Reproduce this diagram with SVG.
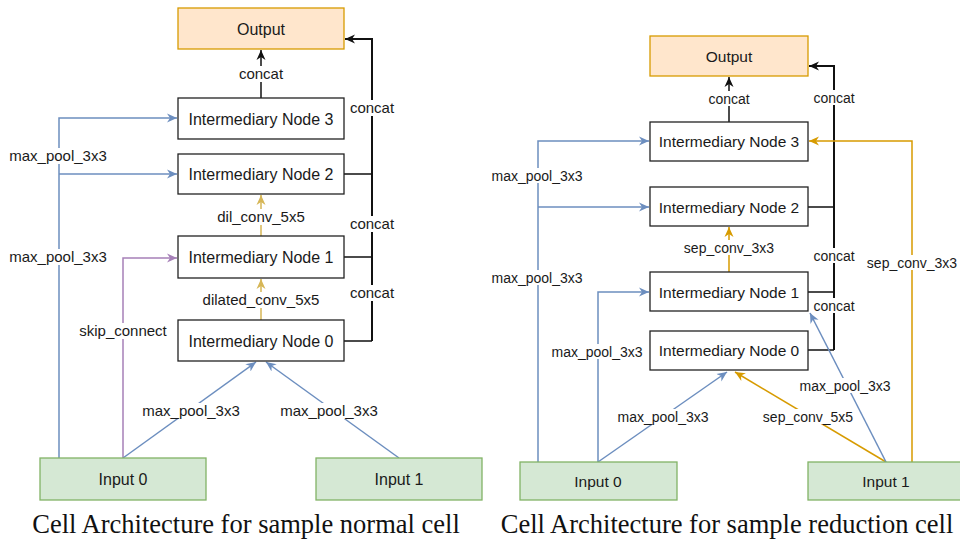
<svg xmlns="http://www.w3.org/2000/svg" width="960" height="540" viewBox="0 0 960 540">
<defs>
<style>
.node{fill:#ffffff;stroke:#222;stroke-width:1.3}
.out{fill:#ffe6cc;stroke:#d79b00;stroke-width:1.3}
.inp{fill:#d5e8d4;stroke:#82b366;stroke-width:1.3}
.t{font-family:"Liberation Sans",Arial,sans-serif;fill:#1a1a1a;text-anchor:middle}
.nl{font-size:16px}
.nr{font-size:15.5px}
.ll{font-size:15px}
.lr{font-size:14px}
.bg{fill:#ffffff}
.k{fill:none;stroke:#111;stroke-width:1.5}
.kv{fill:none;stroke:#111;stroke-width:2}
.b{fill:none;stroke:#6c8ebf;stroke-width:1.5}
.y1{fill:none;stroke:#d6b656;stroke-width:1.5}
.y2{fill:none;stroke:#d79b00;stroke-width:1.5}
.p{fill:none;stroke:#a680b8;stroke-width:1.5}
.cap{font-family:"Liberation Serif","Times New Roman",serif;font-size:26.5px;fill:#111;text-anchor:middle}
</style>
<marker id="mk" viewBox="0 0 10 10" refX="10" refY="5" markerWidth="10" markerHeight="10" markerUnits="userSpaceOnUse" orient="auto"><path d="M0,0.5 L10,5 L0,9.5 L3,5 z" fill="#111"/></marker>
<marker id="mb" viewBox="0 0 10 10" refX="10" refY="5" markerWidth="10" markerHeight="10" markerUnits="userSpaceOnUse" orient="auto"><path d="M0,0.5 L10,5 L0,9.5 L3,5 z" fill="#6c8ebf"/></marker>
<marker id="my1" viewBox="0 0 10 10" refX="10" refY="5" markerWidth="10" markerHeight="10" markerUnits="userSpaceOnUse" orient="auto"><path d="M0,0.5 L10,5 L0,9.5 L3,5 z" fill="#d6b656"/></marker>
<marker id="my2" viewBox="0 0 10 10" refX="10" refY="5" markerWidth="10" markerHeight="10" markerUnits="userSpaceOnUse" orient="auto"><path d="M0,0.5 L10,5 L0,9.5 L3,5 z" fill="#d79b00"/></marker>
<marker id="mp" viewBox="0 0 10 10" refX="10" refY="5" markerWidth="10" markerHeight="10" markerUnits="userSpaceOnUse" orient="auto"><path d="M0,0.5 L10,5 L0,9.5 L3,5 z" fill="#a680b8"/></marker>
</defs>
<rect width="960" height="540" fill="#ffffff"/>

<g id="connectors">
<!-- left panel -->
<path class="k" d="M261,98 V50" marker-end="url(#mk)"/>
<path class="kv" d="M372,341 V39 H345" marker-end="url(#mk)"/>
<path class="k" d="M344,174 H372 M344,257 H372 M344,341 H372"/>
<path class="b" d="M59,458 V118 H177" marker-end="url(#mb)"/>
<path class="b" d="M59,174 H177" marker-end="url(#mb)"/>
<path class="p" d="M123,458 V258 H177" marker-end="url(#mp)"/>
<path class="y1" d="M261,236 V195" marker-end="url(#my1)"/>
<path class="y1" d="M261,320 V279" marker-end="url(#my1)"/>
<path class="b" d="M123,458 L256,362" marker-end="url(#mb)"/>
<path class="b" d="M399,458 L266,362" marker-end="url(#mb)"/>
<!-- right panel -->
<path class="k" d="M729,122 V77" marker-end="url(#mk)"/>
<path class="kv" d="M834,350 V66 H809" marker-end="url(#mk)"/>
<path class="k" d="M808,207 H834 M808,292 H834 M808,350 H834"/>
<path class="b" d="M538,462 V141 H649" marker-end="url(#mb)"/>
<path class="b" d="M538,207 H649" marker-end="url(#mb)"/>
<path class="b" d="M598,462 V292 H649" marker-end="url(#mb)"/>
<path class="y2" d="M729,272 V227" marker-end="url(#my2)"/>
<path class="b" d="M598,462 L727,372" marker-end="url(#mb)"/>
<path class="y2" d="M886,462 L735,372" marker-end="url(#my2)"/>
<path class="b" d="M886,462 L810,313" marker-end="url(#mb)"/>
<path class="y2" d="M912,462 V141 H809" marker-end="url(#my2)"/>

<!-- left labels -->
<g class="t ll">
<rect class="bg" x="238" y="66" width="46" height="16"/><text x="261" y="79">concat</text>
<rect class="bg" x="349" y="100" width="46" height="16"/><text x="372" y="113">concat</text>
<rect class="bg" x="349" y="216" width="46" height="16"/><text x="372" y="229">concat</text>
<rect class="bg" x="349" y="285" width="46" height="16"/><text x="372" y="298">concat</text>
<rect class="bg" x="8" y="148" width="100" height="16"/><text x="58" y="161">max_pool_3x3</text>
<rect class="bg" x="8" y="249" width="100" height="16"/><text x="58" y="262">max_pool_3x3</text>
<rect class="bg" x="78" y="323" width="90" height="16"/><text x="123" y="336">skip_connect</text>
<rect class="bg" x="214" y="209" width="94" height="16"/><text x="261" y="222">dil_conv_5x5</text>
<rect class="bg" x="200" y="292" width="122" height="16"/><text x="261" y="305">dilated_conv_5x5</text>
<rect class="bg" x="141" y="403" width="100" height="16"/><text x="191" y="416">max_pool_3x3</text>
<rect class="bg" x="279" y="403" width="100" height="16"/><text x="329" y="416">max_pool_3x3</text>
</g>
<!-- right labels -->
<g class="t lr">
<rect class="bg" x="707" y="91" width="44" height="15"/><text x="729" y="104">concat</text>
<rect class="bg" x="812" y="90" width="44" height="15"/><text x="834" y="103">concat</text>
<rect class="bg" x="812" y="248" width="44" height="15"/><text x="834" y="261">concat</text>
<rect class="bg" x="812" y="298" width="44" height="15"/><text x="834" y="311">concat</text>
<rect class="bg" x="490" y="168" width="94" height="15"/><text x="537" y="181">max_pool_3x3</text>
<rect class="bg" x="490" y="270" width="94" height="15"/><text x="537" y="283">max_pool_3x3</text>
<rect class="bg" x="550" y="344" width="94" height="15"/><text x="597" y="357">max_pool_3x3</text>
<rect class="bg" x="616" y="409" width="94" height="15"/><text x="663" y="422">max_pool_3x3</text>
<rect class="bg" x="798" y="378" width="94" height="15"/><text x="845" y="391">max_pool_3x3</text>
<rect class="bg" x="763" y="409" width="90" height="15"/><text x="808" y="422">sep_conv_5x5</text>
<rect class="bg" x="684" y="240" width="90" height="15"/><text x="729" y="253">sep_conv_3x3</text>
<rect class="bg" x="867" y="255" width="92" height="15"/><text x="912" y="268">sep_conv_3x3</text>
</g>
</g>

<!-- left panel nodes -->
<g id="L_output"><rect class="out" x="178" y="8" width="166" height="41"/><text class="t nl" x="261" y="34.5">Output</text></g>
<g id="L_node3"><rect class="node" x="178" y="98" width="166" height="41"/><text class="t nl" x="261" y="124.5">Intermediary Node 3</text></g>
<g id="L_node2"><rect class="node" x="178" y="154" width="166" height="40"/><text class="t nl" x="261" y="179.5">Intermediary Node 2</text></g>
<g id="L_node1"><rect class="node" x="178" y="236" width="166" height="42"/><text class="t nl" x="261" y="262.5">Intermediary Node 1</text></g>
<g id="L_node0"><rect class="node" x="178" y="320" width="166" height="41"/><text class="t nl" x="261" y="346.5">Intermediary Node 0</text></g>
<g id="L_input0"><rect class="inp" x="40" y="458" width="166" height="42"/><text class="t nl" x="123" y="484.5">Input 0</text></g>
<g id="L_input1"><rect class="inp" x="316" y="458" width="166" height="42"/><text class="t nl" x="399" y="484.5">Input 1</text></g>

<!-- right panel nodes -->
<g id="R_output"><rect class="out" x="650" y="36" width="158" height="40"/><text class="t nr" x="729" y="61.5">Output</text></g>
<g id="R_node3"><rect class="node" x="650" y="122" width="158" height="39"/><text class="t nr" x="729" y="146.5">Intermediary Node 3</text></g>
<g id="R_node2"><rect class="node" x="650" y="187" width="158" height="39"/><text class="t nr" x="729" y="212.5">Intermediary Node 2</text></g>
<g id="R_node1"><rect class="node" x="650" y="272" width="158" height="39"/><text class="t nr" x="729" y="297.5">Intermediary Node 1</text></g>
<g id="R_node0"><rect class="node" x="650" y="331" width="158" height="39"/><text class="t nr" x="729" y="355.5">Intermediary Node 0</text></g>
<g id="R_input0"><rect class="inp" x="520" y="462" width="157" height="38"/><text class="t nr" x="598" y="486.5">Input 0</text></g>
<g id="R_input1"><rect class="inp" x="808" y="462" width="157" height="38"/><text class="t nr" x="886" y="486.5">Input 1</text></g>

<text class="cap" x="246" y="533">Cell Architecture for sample normal cell</text>
<text class="cap" x="727" y="533">Cell Architecture for sample reduction cell</text>
</svg>
